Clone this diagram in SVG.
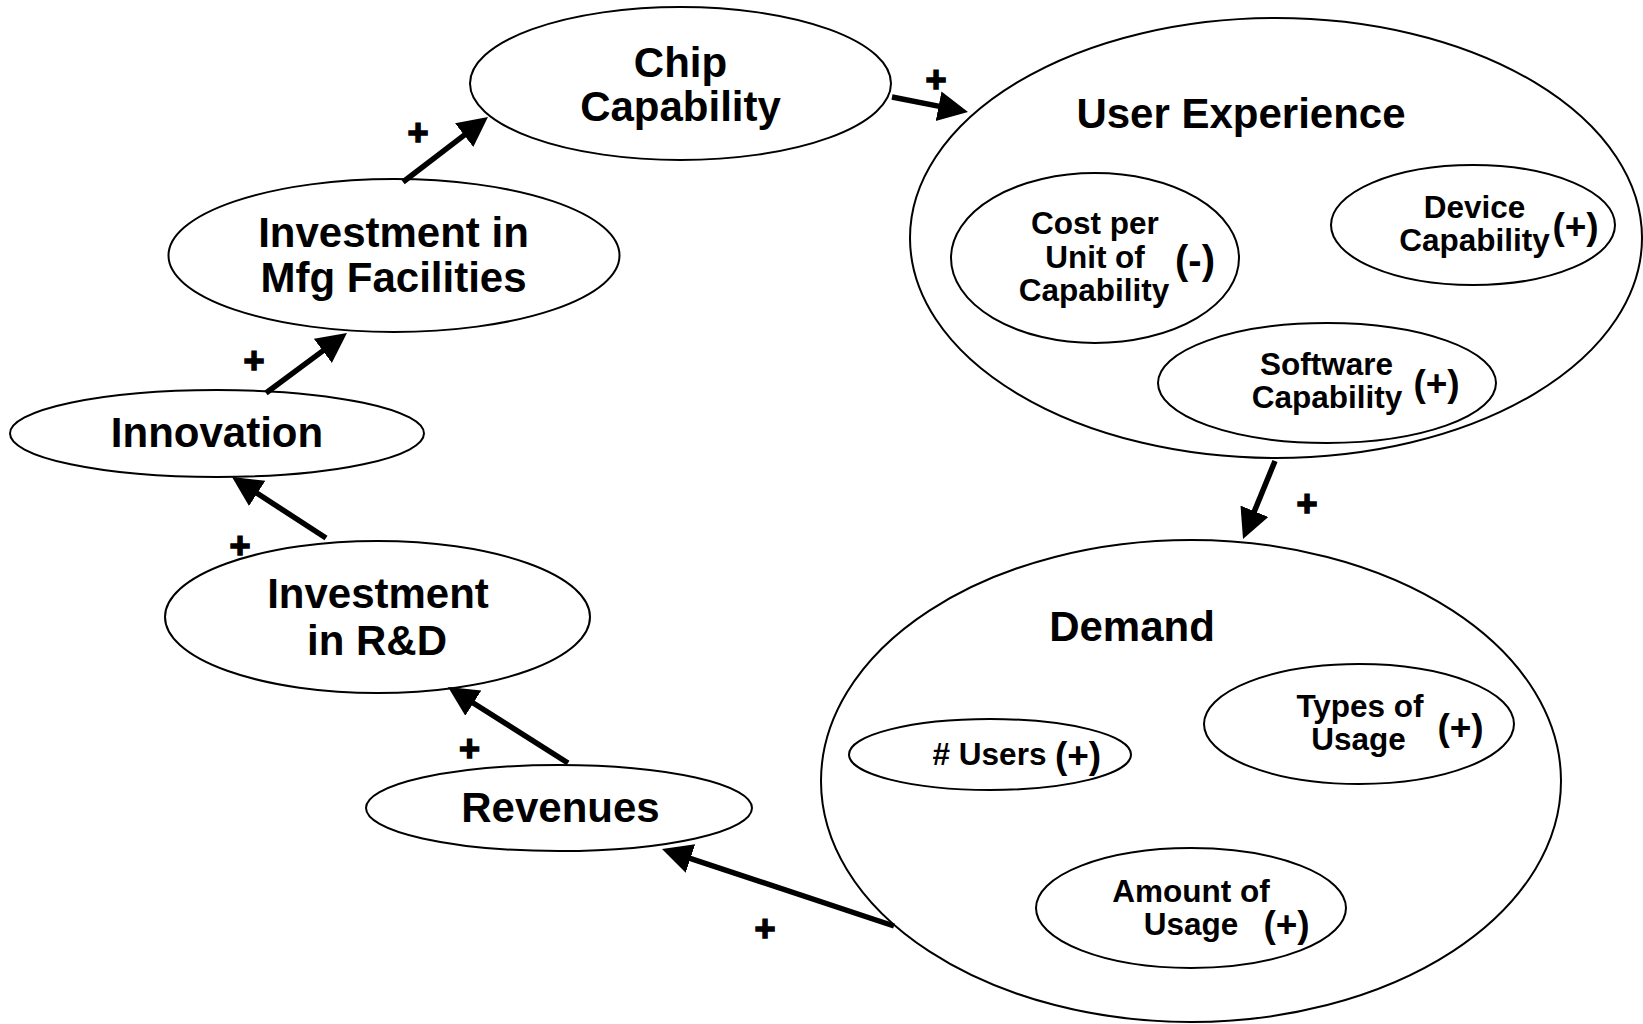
<svg xmlns="http://www.w3.org/2000/svg" width="1643" height="1024" viewBox="0 0 1643 1024">
  <style>
    .node { fill: #fff; stroke: #000; stroke-width: 2; }
    .big { font-family: "Liberation Sans", Arial, sans-serif; font-weight: bold; font-size: 42px; fill: #000; text-anchor: middle; }
    .small { font-family: "Liberation Sans", Arial, sans-serif; font-weight: bold; font-size: 31.5px; fill: #000; text-anchor: middle; }
    .sign { font-family: "Liberation Sans", Arial, sans-serif; font-weight: bold; font-size: 37px; fill: #000; text-anchor: middle; }
    .pol { font-family: "Liberation Sans", Arial, sans-serif; font-weight: bold; font-size: 36px; fill: #000; stroke: #000; stroke-width: 1.5; text-anchor: middle; }
    .edge { stroke: #000; stroke-width: 5.5; fill: none; marker-end: url(#head); }
  </style>
  <defs>
    <marker id="head" markerUnits="userSpaceOnUse" markerWidth="32" markerHeight="32" refX="10" refY="15" orient="auto">
      <path d="M0,0 L30,15 L0,30 Z" fill="#000"/>
    </marker>
  </defs>

  <rect width="1643" height="1024" fill="#fff"/>

  <!-- User Experience cluster -->
  <g id="user-experience">
    <ellipse class="node" cx="1276" cy="238" rx="366" ry="220"/>
    <text class="big" x="1241" y="128">User Experience</text>
  </g>
  <g id="cost-per-unit">
    <ellipse class="node" cx="1095" cy="258" rx="144" ry="85"/>
    <text class="small" x="1095" y="234">Cost per</text>
    <text class="small" x="1095" y="267.5">Unit of</text>
    <text class="small" x="1094" y="301">Capability</text>
    <text class="sign" x="1195" y="274" style="font-size:40px">(-)</text>
  </g>
  <g id="device-capability">
    <ellipse class="node" cx="1473" cy="225" rx="142" ry="60"/>
    <text class="small" x="1474.5" y="218">Device</text>
    <text class="small" x="1474.5" y="251">Capability</text>
    <text class="sign" x="1575.5" y="239">(+)</text>
  </g>
  <g id="software-capability">
    <ellipse class="node" cx="1327" cy="383" rx="169" ry="60"/>
    <text class="small" x="1326.5" y="375">Software</text>
    <text class="small" x="1327" y="408">Capability</text>
    <text class="sign" x="1436.5" y="396">(+)</text>
  </g>

  <!-- Demand cluster -->
  <g id="demand">
    <ellipse class="node" cx="1191" cy="781" rx="370" ry="241"/>
    <text class="big" x="1132" y="641">Demand</text>
  </g>
  <g id="users">
    <ellipse class="node" cx="990" cy="754.5" rx="141" ry="35.5"/>
    <text class="small" x="989.5" y="765"># Users</text>
    <text class="sign" x="1078" y="768">(+)</text>
  </g>
  <g id="types-of-usage">
    <ellipse class="node" cx="1359" cy="724" rx="155" ry="60"/>
    <text class="small" x="1360" y="717">Types of</text>
    <text class="small" x="1358.5" y="750">Usage</text>
    <text class="sign" x="1460.5" y="740">(+)</text>
  </g>
  <g id="amount-of-usage">
    <ellipse class="node" cx="1191" cy="908" rx="155" ry="60"/>
    <text class="small" x="1191" y="902">Amount of</text>
    <text class="small" x="1191" y="935">Usage</text>
    <text class="sign" x="1286.5" y="937">(+)</text>
  </g>

  <!-- Loop nodes -->
  <g id="chip-capability">
    <ellipse class="node" cx="680.5" cy="83.5" rx="210.5" ry="76.5"/>
    <text class="big" x="680.5" y="77">Chip</text>
    <text class="big" x="680.5" y="121">Capability</text>
  </g>
  <g id="mfg-investment">
    <ellipse class="node" cx="394" cy="255.5" rx="225.5" ry="76.5"/>
    <text class="big" x="393.5" y="247">Investment in</text>
    <text class="big" x="393.5" y="292">Mfg Facilities</text>
  </g>
  <g id="innovation">
    <ellipse class="node" cx="217" cy="433.5" rx="207" ry="43.5"/>
    <text class="big" x="217" y="447">Innovation</text>
  </g>
  <g id="rd-investment">
    <ellipse class="node" cx="377.5" cy="617" rx="212.5" ry="76"/>
    <text class="big" x="378" y="608">Investment</text>
    <text class="big" x="377" y="655">in R&amp;D</text>
  </g>
  <g id="revenues">
    <ellipse class="node" cx="559" cy="808" rx="193" ry="43"/>
    <text class="big" x="560.5" y="822">Revenues</text>
  </g>

  <!-- Causal links with polarity -->
  <g id="connectors">
    <line class="edge" x1="403" y1="182" x2="472.1" y2="129.1"/>
    <line class="edge" x1="892" y1="97" x2="948.4" y2="108.1"/>
    <line class="edge" x1="1275" y1="461" x2="1250.6" y2="520.5"/>
    <line class="edge" x1="894" y1="926" x2="681" y2="855.3"/>
    <line class="edge" x1="568" y1="763" x2="464.9" y2="697.7"/>
    <line class="edge" x1="326" y1="538" x2="248.8" y2="487.9"/>
    <line class="edge" x1="266" y1="393" x2="330.9" y2="344.9"/>
    <text class="pol" x="418" y="145">+</text>
    <text class="pol" x="936" y="92">+</text>
    <text class="pol" x="1307" y="516">+</text>
    <text class="pol" x="765" y="941">+</text>
    <text class="pol" x="469.5" y="761">+</text>
    <text class="pol" x="240" y="558">+</text>
    <text class="pol" x="254" y="373">+</text>
  </g>
</svg>
